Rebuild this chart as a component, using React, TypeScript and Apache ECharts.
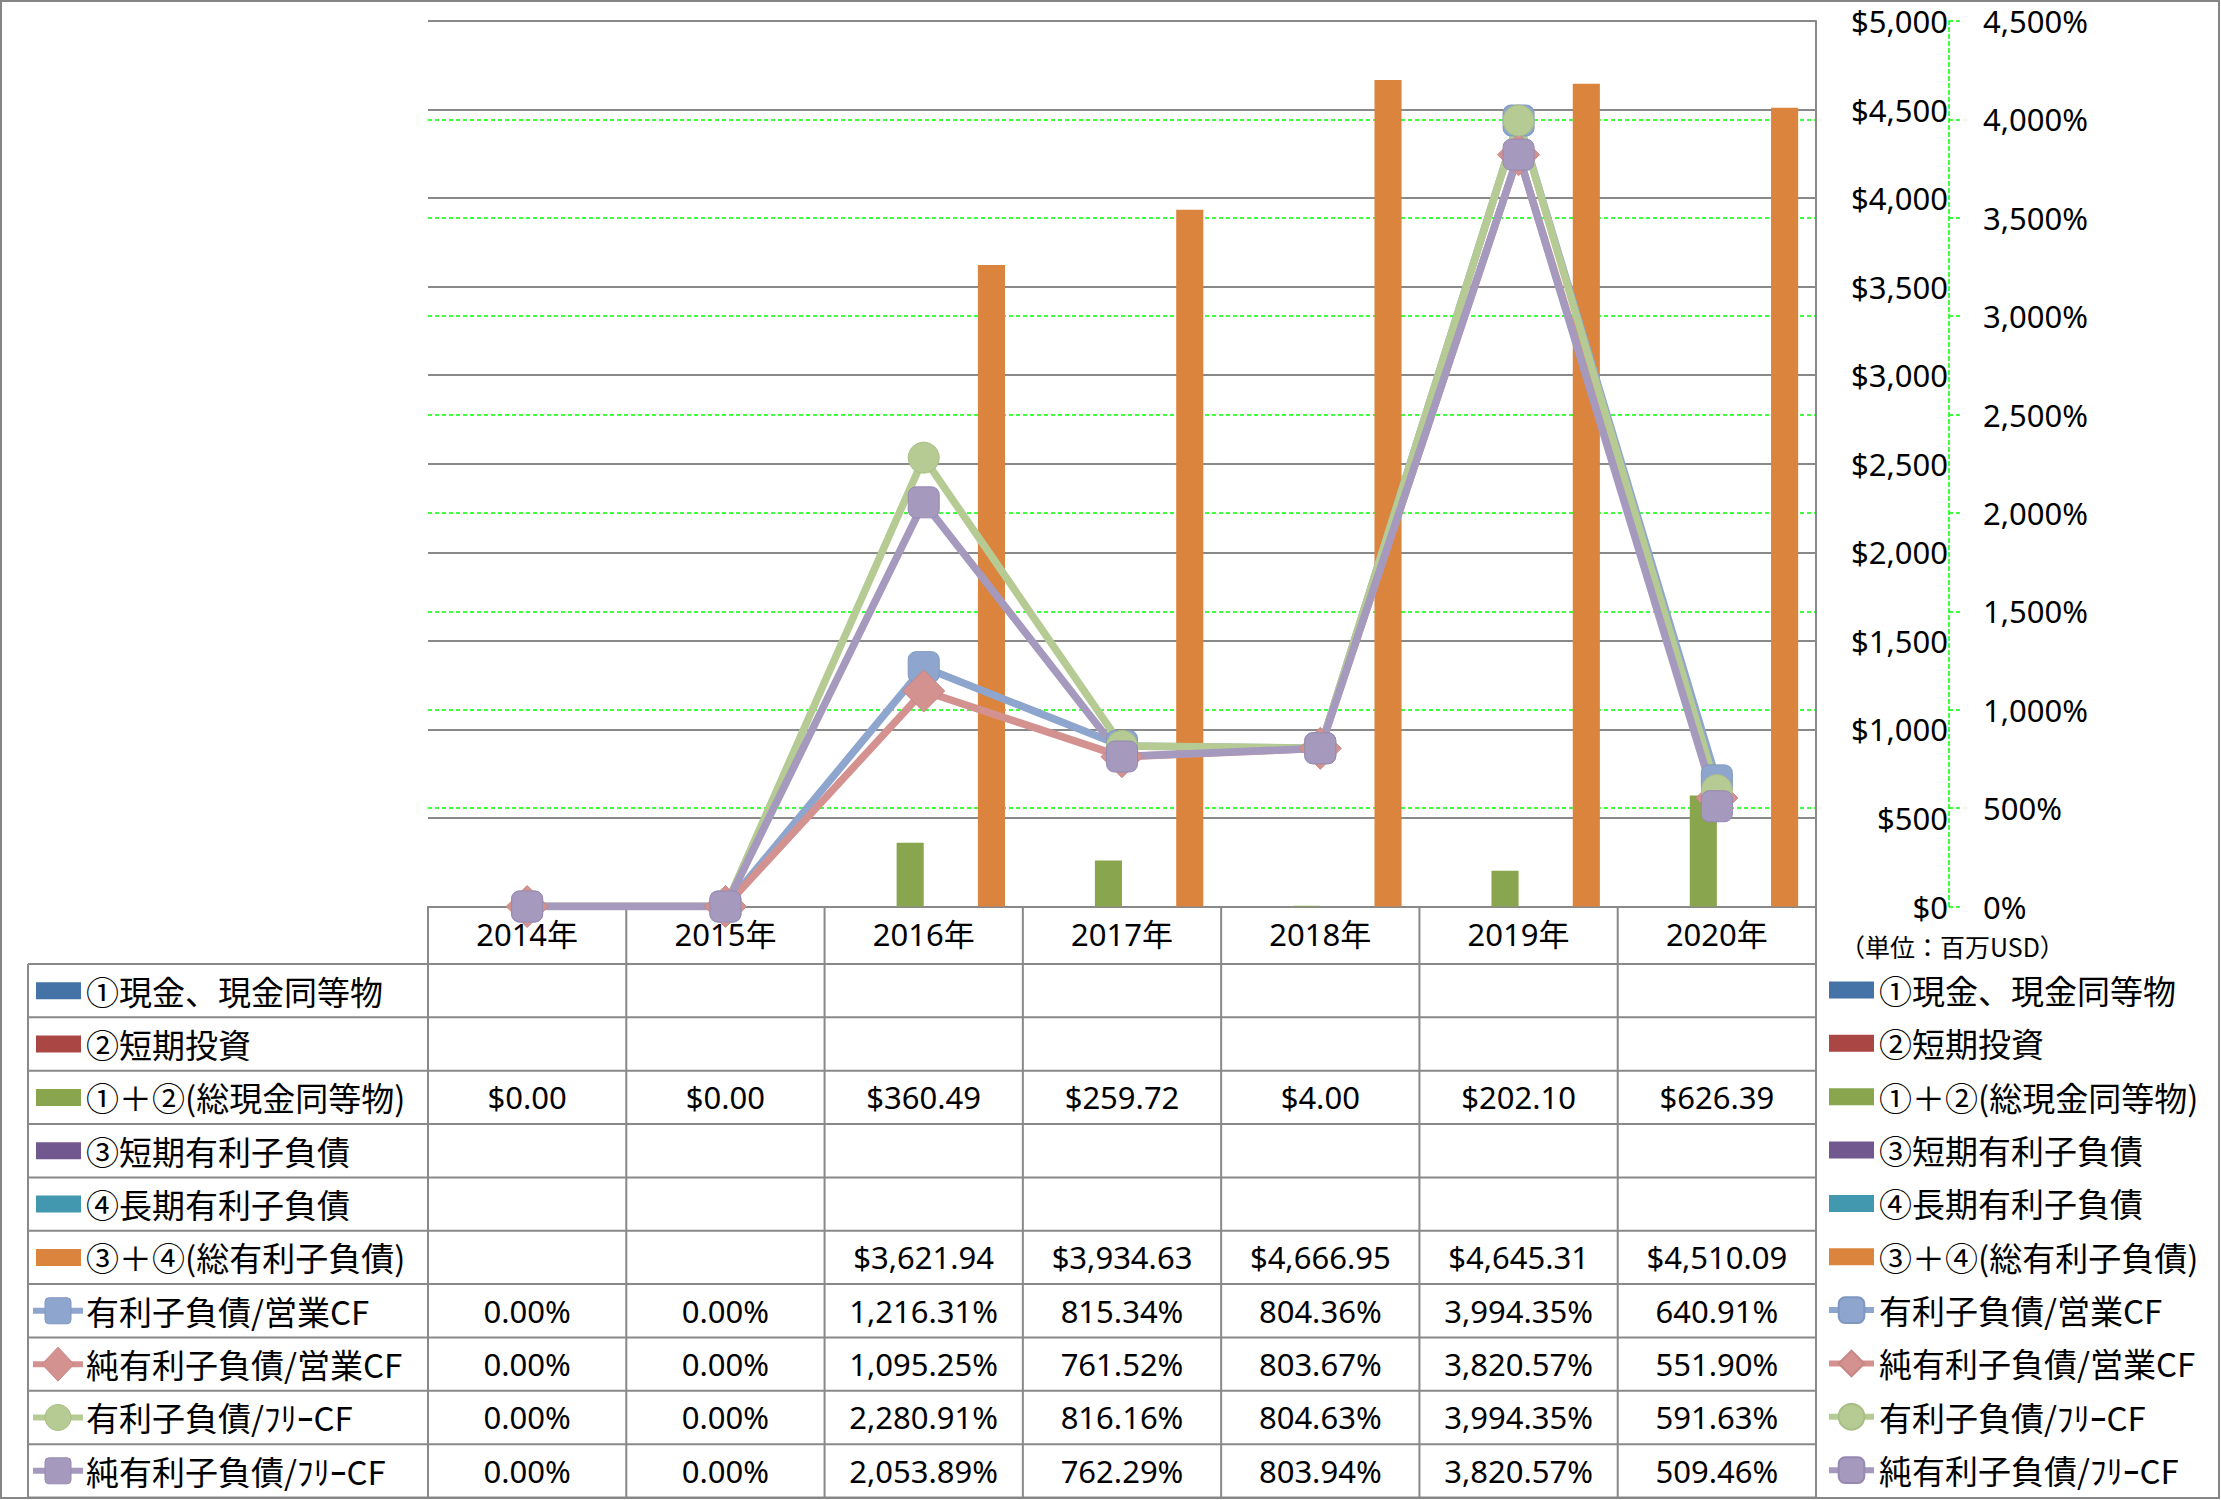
import { useEffect, useRef } from "react";
import * as echarts from "echarts";

const W = 2221;
const H = 1500;

const categories = ["2014年", "2015年", "2016年", "2017年", "2018年", "2019年", "2020年"];

// Bars (primary axis, 百万USD)
const cashEq: (number | null)[] = [null, null, null, null, null, null, null];
const shortInvest: (number | null)[] = [null, null, null, null, null, null, null];
const totalCash: (number | null)[] = [0, 0, 360.49, 259.72, 4.0, 202.1, 626.39];
const shortDebt: (number | null)[] = [null, null, null, null, null, null, null];
const longDebt: (number | null)[] = [null, null, null, null, null, null, null];
const totalDebt: (number | null)[] = [null, null, 3621.94, 3934.63, 4666.95, 4645.31, 4510.09];

// Lines (secondary axis, %)
const debtOpCF = [0, 0, 1216.31, 815.34, 804.36, 3994.35, 640.91];
const netDebtOpCF = [0, 0, 1095.25, 761.52, 803.67, 3820.57, 551.9];
const debtFreeCF = [0, 0, 2280.91, 816.16, 804.63, 3994.35, 591.63];
const netDebtFreeCF = [0, 0, 2053.89, 762.29, 803.94, 3820.57, 509.46];

const barNames = [
  "①現金、現金同等物",
  "②短期投資",
  "①＋②(総現金同等物)",
  "③短期有利子負債",
  "④長期有利子負債",
  "③＋④(総有利子負債)",
];
const lineNames = ["有利子負債/営業CF", "純有利子負債/営業CF", "有利子負債/ﾌﾘｰCF", "純有利子負債/ﾌﾘｰCF"];
const barData = [cashEq, shortInvest, totalCash, shortDebt, longDebt, totalDebt];
const lineData = [debtOpCF, netDebtOpCF, debtFreeCF, netDebtFreeCF];

const barColors = ["#4572A7", "#AA4643", "#89A54E", "#71588F", "#4198AF", "#DB843D"];
const lineColors = ["#8EA6CD", "#D39290", "#B6CB93", "#A599BE"];
const lineBorders = ["#7F97C0", "#C88583", "#A8BE85", "#9689B1"];
const lineSymbols = ["roundRect", "diamond", "circle", "roundRect"];
const lineSymbolSizes: any[] = [31, 42, 31, 31];

const usdMin = 0;
const usdMax = 5000;
const usdStep = 500;
const pctMin = 0;
const pctMax = 4500;
const pctStep = 500;

const GRID_LEFT = 428;
const GRID_RIGHT_X = 1816;
const GRID_TOP = 21;
const GRID_BOTTOM_Y = 906.5;
const HEADER_BOTTOM = 964;
const ROW_H = 53.35;
const TABLE_LEFT = 28;
const GRAY = "#898989";
const CJK = "'Noto Sans CJK JP'";
const NUM = "'Noto Sans', 'Noto Sans CJK JP'";
const LABEL_FONT = 33;
const LINE_W = 7.5;

// legend icon for bar series: a 45x17 rect inside a 45x32 box (zero-area segments fix the box)
const BAR_ICON = "path://M0,0L45,0L45,0ZM0,7.5L45,7.5L45,24.5L0,24.5ZM0,32L45,32L45,32Z";

const fmt2 = (v: number) =>
  v.toLocaleString("en-US", { minimumFractionDigits: 2, maximumFractionDigits: 2 });

function cellText(row: number, v: number | null): string {
  if (v === null || v === undefined) return "";
  if (row < 6) return "$" + fmt2(v);
  return fmt2(v) + "%";
}

function buildGraphic(chart: echarts.ECharts) {
  const els: any[] = [];
  const xs = categories.map((c) => chart.convertToPixel({ xAxisIndex: 0 }, c) as number);
  const colW = xs[1] - xs[0];
  const rowCount = barNames.length + lineNames.length;
  const tableBottom = HEADER_BOTTOM + rowCount * ROW_H;
  const line = (x1: number, y1: number, x2: number, y2: number) => ({
    type: "line",
    silent: true,
    shape: { x1, y1, x2, y2 },
    style: { stroke: GRAY, lineWidth: 2 },
  });
  for (let k = 0; k <= rowCount; k++) {
    const y = HEADER_BOTTOM + k * ROW_H;
    els.push(line(TABLE_LEFT, y, GRID_RIGHT_X, y));
  }
  els.push(line(TABLE_LEFT, HEADER_BOTTOM, TABLE_LEFT, tableBottom));
  for (let i = 0; i <= categories.length; i++) {
    const x = xs[0] - colW / 2 + i * colW;
    els.push(line(x, GRID_BOTTOM_Y, x, tableBottom));
  }
  const allNames = [...barNames, ...lineNames];
  const allData: (number | null)[][] = [...barData, ...lineData];
  allNames.forEach((name, r) => {
    const cy = HEADER_BOTTOM + (r + 0.5) * ROW_H;
    if (r < barNames.length) {
      els.push({
        type: "rect",
        silent: true,
        shape: { x: 36, y: cy - 8.5, width: 45, height: 17 },
        style: { fill: barColors[r] },
      });
    } else {
      const li = r - barNames.length;
      els.push({
        type: "line",
        silent: true,
        shape: { x1: 33, y1: cy, x2: 83, y2: cy },
        style: { stroke: lineColors[li], lineWidth: 6 },
      });
      const mx = 58;
      const st = { fill: lineColors[li], stroke: lineBorders[li], lineWidth: 1 };
      if (lineSymbols[li] === "roundRect") {
        els.push({ type: "rect", silent: true, shape: { x: mx - 13, y: cy - 13, width: 26, height: 26, r: 4 }, style: st });
      } else if (lineSymbols[li] === "diamond") {
        els.push({
          type: "polygon",
          silent: true,
          shape: { points: [[mx, cy - 17], [mx + 16, cy], [mx, cy + 17], [mx - 16, cy]] },
          style: st,
        });
      } else {
        els.push({ type: "circle", silent: true, shape: { cx: mx, cy, r: 13 }, style: st });
      }
    }
    els.push({
      type: "text",
      silent: true,
      x: 86,
      y: cy,
      style: { text: name, fontSize: LABEL_FONT, fontFamily: CJK, fill: "#000", align: "left", verticalAlign: "middle" },
    });
    allData[r].forEach((v, i) => {
      const t = cellText(r, v);
      if (!t) return;
      els.push({
        type: "text",
        silent: true,
        x: xs[i],
        y: cy,
        style: { text: t, fontSize: 31, fontFamily: NUM, fill: "#000", align: "center", verticalAlign: "middle" },
      });
    });
  });
  els.push({
    type: "text",
    silent: true,
    x: 1840,
    y: 946,
    style: { text: "（単位：百万USD）", fontSize: 25, fontFamily: CJK, fill: "#000", align: "left", verticalAlign: "middle" },
  });
  els.push({
    type: "rect",
    silent: true,
    shape: { x: 1, y: 1, width: W - 3, height: H - 3 },
    style: { fill: "none", stroke: "#868686", lineWidth: 2 },
  });
  return els;
}

export default function App() {
  const ref = useRef<HTMLDivElement>(null);
  useEffect(() => {
    if (!ref.current) return;
    const chart = echarts.init(ref.current, undefined, { renderer: "svg", width: W, height: H });
    const series: any[] = [];
    barNames.forEach((n, i) => {
      series.push({
        name: n,
        type: "bar",
        yAxisIndex: 0,
        data: barData[i],
        itemStyle: { color: barColors[i] },
        barGap: "0%",
        barCategoryGap: "18%",
      });
    });
    lineNames.forEach((n, i) => {
      series.push({
        name: n,
        type: "line",
        yAxisIndex: 1,
        data: lineData[i],
        symbol: lineSymbols[i],
        symbolSize: lineSymbolSizes[i],
        showAllSymbol: true,
        lineStyle: { color: lineColors[i], width: LINE_W },
        itemStyle: { color: lineColors[i], borderColor: lineBorders[i], borderWidth: 1 },
        z: 3,
      });
    });
    const option: any = {
      animation: false,
      backgroundColor: "#ffffff",
      grid: {
        left: GRID_LEFT,
        right: W - GRID_RIGHT_X,
        top: GRID_TOP,
        bottom: H - GRID_BOTTOM_Y,
        containLabel: false,
      },
      legend: {
        orient: "vertical",
        left: 1826,
        top: 972,
        padding: 0,
        itemGap: 17.35,
        itemWidth: 45,
        itemHeight: 32,
        lineStyle: { width: 6 },
        textStyle: { fontSize: LABEL_FONT, fontFamily: CJK, color: "#000", lineHeight: 36 },
        data: [...barNames.map((n) => ({ name: n, icon: BAR_ICON })), ...lineNames.map((n) => ({ name: n }))],
      },
      xAxis: {
        type: "category",
        data: categories,
        z: 2,
        axisLine: { show: true, lineStyle: { color: GRAY, width: 2 } },
        axisTick: { show: false },
        axisLabel: { fontSize: 31, fontFamily: NUM, color: "#000", margin: 12 },
      },
      yAxis: [
        {
          type: "value",
          position: "right",
          z: 1,
          min: usdMin,
          max: usdMax,
          interval: usdStep,
          axisLine: { show: true, lineStyle: { color: GRAY, width: 2 } },
          axisTick: { show: false },
          axisLabel: {
            fontSize: 31,
            fontFamily: NUM,
            color: "#000",
            align: "right",
            margin: 132,
            formatter: (v: number) => "$" + v.toLocaleString("en-US"),
          },
          splitLine: { show: true, lineStyle: { color: GRAY, width: 2 } },
        },
        {
          type: "value",
          position: "right",
          z: 0,
          offset: 133,
          min: pctMin,
          max: pctMax,
          interval: pctStep,
          axisLine: { show: true, lineStyle: { color: "#00FF00", width: 1.5, type: [4, 3] } },
          axisTick: { show: true, length: 11, lineStyle: { color: "#00FF00", width: 1.5, type: [4, 3] } },
          axisLabel: {
            fontSize: 31,
            fontFamily: NUM,
            color: "#000",
            margin: 34,
            formatter: (v: number) => v.toLocaleString("en-US") + "%",
          },
          splitLine: { show: true, lineStyle: { color: "#00FF00", width: 1.5, type: [4, 3] } },
        },
      ],
      series,
    };
    chart.setOption(option);
    chart.setOption({ graphic: buildGraphic(chart) });
    return () => chart.dispose();
  }, []);
  return (
    <div
      ref={ref}
      style={{ position: "fixed", left: 0, top: 0, width: W, height: H, background: "#fff" }}
    />
  );
}
